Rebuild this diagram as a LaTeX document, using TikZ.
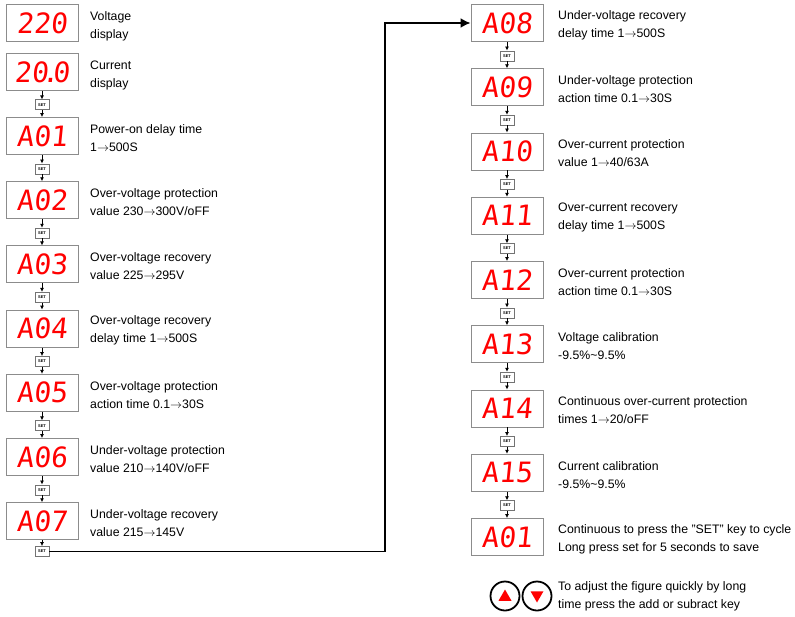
\documentclass[tikz,border=0pt]{standalone}
\usepackage{fontspec}
\setmainfont{Liberation Sans}
\newfontfamily\segfont[FakeSlant=0.1]{DejaVu Sans Mono}
\usetikzlibrary{positioning,calc,arrows.meta,shapes.geometric}

\newcommand{\upto}{\ensuremath{\rightarrow}}

\tikzset{
  disp/.style={draw=black!45,line width=0.9pt,fill=white,minimum width=72pt,minimum height=37pt,inner sep=0pt,text=red,font=\segfont\fontsize{28}{28}\selectfont},
  setkey/.style={draw=black!55,line width=0.6pt,fill=white,minimum width=14pt,minimum height=10pt,inner sep=0pt,font=\bfseries\fontsize{4}{4}\selectfont},
  desc/.style={anchor=west,align=left,inner sep=0pt,font=\fontsize{12.3}{18}\selectfont},
  flow/.style={-{Latex[length=4pt,width=4pt]},line width=0.8pt},
  bigflow/.style={-{Latex[length=10pt,width=10pt]},line width=1.8pt},
}

\begin{document}
\begin{tikzpicture}[x=1pt,y=-1pt]
	\useasboundingbox (0,0) rectangle (795,616);

	% left column
	\node[disp] (d220) at (42,23) {220};
	\node[disp] (d200) at (42,72) {20\kern-.22em.\kern-.22em0};
	\node[disp] (l01) at (42,136) {A01};
	\node[disp] (l02) at (42,200.2) {A02};
	\node[disp] (l03) at (42,264.4) {A03};
	\node[disp] (l04) at (42,328.6) {A04};
	\node[disp] (l05) at (42,392.8) {A05};
	\node[disp] (l06) at (42,457) {A06};
	\node[disp] (l07) at (42,521.2) {A07};

	\node[desc] at (90,26) {Voltage\\display};
	\node[desc] at (90,75) {Current\\display};
	\node[desc] at (90,138) {Power-on delay time\\1\upto500S};
	\node[desc] at (90,202.2) {Over-voltage protection\\value 230\upto300V/oFF};
	\node[desc] at (90,266.4) {Over-voltage recovery\\value 225\upto295V};
	\node[desc] at (90,330.6) {Over-voltage recovery\\delay time 1\upto500S};
	\node[desc] at (90,394.8) {Over-voltage protection\\action time 0.1\upto30S};
	\node[desc] at (90,459) {Under-voltage protection\\value 210\upto140V/oFF};
	\node[desc] at (90,523.2) {Under-voltage recovery\\value 215\upto145V};

	\node[setkey,below=8.5pt of d200] (lk0) {SET};
	\node[setkey,below=8.6pt of l01] (lk1) {SET};
	\node[setkey,below=8.6pt of l02] (lk2) {SET};
	\node[setkey,below=8.6pt of l03] (lk3) {SET};
	\node[setkey,below=8.6pt of l04] (lk4) {SET};
	\node[setkey,below=8.6pt of l05] (lk5) {SET};
	\node[setkey,below=8.6pt of l06] (lk6) {SET};
	\node[setkey,below=6pt of l07] (lk7) {SET};

	\draw[flow] (d200) -- (lk0);
	\draw[flow] (lk0) -- (l01);
	\draw[flow] (l01) -- (lk1);
	\draw[flow] (lk1) -- (l02);
	\draw[flow] (l02) -- (lk2);
	\draw[flow] (lk2) -- (l03);
	\draw[flow] (l03) -- (lk3);
	\draw[flow] (lk3) -- (l04);
	\draw[flow] (l04) -- (lk4);
	\draw[flow] (lk4) -- (l05);
	\draw[flow] (l05) -- (lk5);
	\draw[flow] (lk5) -- (l06);
	\draw[flow] (l06) -- (lk6);
	\draw[flow] (lk6) -- (l07);
	\draw[flow] (l07) -- (lk7);

	% right column
	\node[disp] (r08) at (507,23) {A08};
	\node[disp] (r09) at (507,87.25) {A09};
	\node[disp] (r10) at (507,151.5) {A10};
	\node[disp] (r11) at (507,215.75) {A11};
	\node[disp] (r12) at (507,280) {A12};
	\node[disp] (r13) at (507,344.25) {A13};
	\node[disp] (r14) at (507,408.5) {A14};
	\node[disp] (r15) at (507,472.75) {A15};
	\node[disp] (r01) at (507,537) {A01};

	\node[desc] at (558,25) {Under-voltage recovery\\delay time 1\upto500S};
	\node[desc] at (558,89.25) {Under-voltage protection\\action time 0.1\upto30S};
	\node[desc] at (558,153.5) {Over-current protection\\value 1\upto40/63A};
	\node[desc] at (558,217.75) {Over-current recovery\\delay time 1\upto500S};
	\node[desc] at (558,282) {Over-current protection\\action time 0.1\upto30S};
	\node[desc] at (558,346.25) {Voltage calibration\\-9.5\%\textasciitilde9.5\%};
	\node[desc] at (558,410.5) {Continuous over-current protection\\times 1\upto20/oFF};
	\node[desc] at (558,474.75) {Current calibration\\-9.5\%\textasciitilde9.5\%};
	\node[desc] at (558,539) {Continuous to press the "SET" key to cycle\\Long press set for 5 seconds to save};

	\node[setkey,below=8.6pt of r08] (rk8) {SET};
	\node[setkey,below=8.6pt of r09] (rk9) {SET};
	\node[setkey,below=8.6pt of r10] (rk10) {SET};
	\node[setkey,below=8.6pt of r11] (rk11) {SET};
	\node[setkey,below=8.6pt of r12] (rk12) {SET};
	\node[setkey,below=8.6pt of r13] (rk13) {SET};
	\node[setkey,below=8.6pt of r14] (rk14) {SET};
	\node[setkey,below=8.6pt of r15] (rk15) {SET};

	\draw[flow] (r08) -- (rk8);
	\draw[flow] (rk8) -- (r09);
	\draw[flow] (r09) -- (rk9);
	\draw[flow] (rk9) -- (r10);
	\draw[flow] (r10) -- (rk10);
	\draw[flow] (rk10) -- (r11);
	\draw[flow] (r11) -- (rk11);
	\draw[flow] (rk11) -- (r12);
	\draw[flow] (r12) -- (rk12);
	\draw[flow] (rk12) -- (r13);
	\draw[flow] (r13) -- (rk13);
	\draw[flow] (rk13) -- (r14);
	\draw[flow] (r14) -- (rk14);
	\draw[flow] (rk14) -- (r15);
	\draw[flow] (r15) -- (rk15);
	\draw[flow] (rk15) -- (r01);

	% jump to the second column
	\coordinate (bend) at (385,23);
	\draw[bigflow] (lk7.east) -| (bend) -- (r08.west);

	% add / subtract keys
	\node[draw,circle,line width=1.8pt,minimum size=29pt] (up) at (505,596) {};
	\node[draw,circle,line width=1.8pt,minimum size=29pt] (down) at (537,596) {};
	\node[regular polygon,regular polygon sides=3,fill=red,inner sep=0pt,minimum size=15pt] at ($(up)+(0,1)$) {};
	\node[regular polygon,regular polygon sides=3,shape border rotate=180,fill=red,inner sep=0pt,minimum size=15pt] at ($(down)+(0,-1)$) {};
	\node[desc] at (558,596) {To adjust the figure quickly by long\\time press the add or subract key};
\end{tikzpicture}
\end{document}
